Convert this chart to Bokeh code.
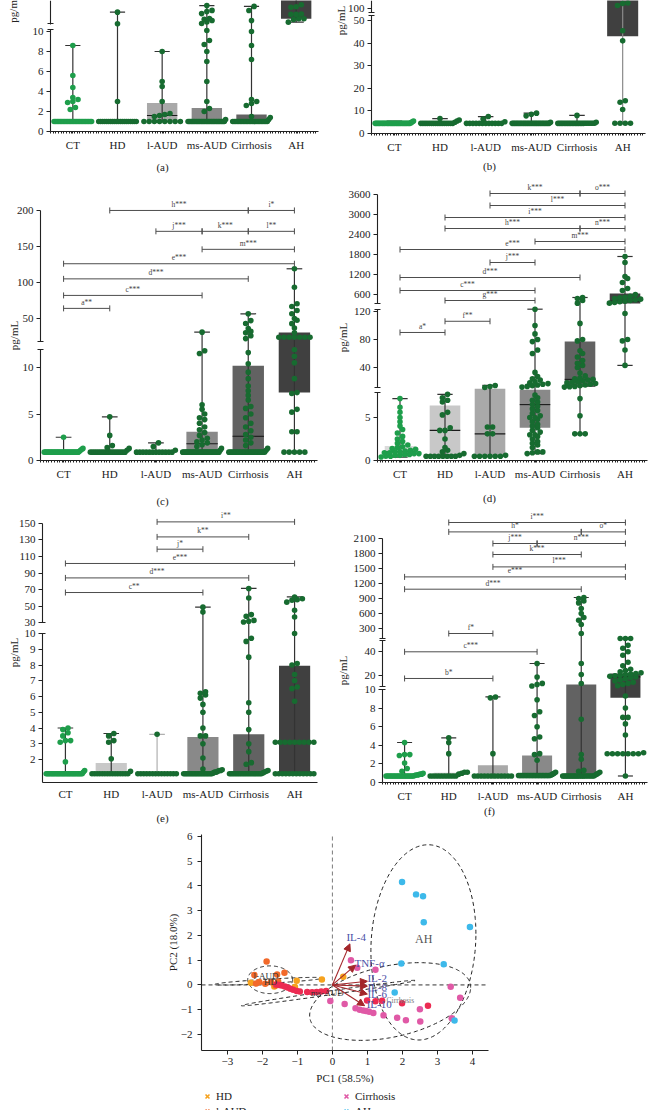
import numpy as np
from bokeh.plotting import figure
from bokeh.layouts import column, row
from bokeh.models import (Range1d, LinearAxis, FixedTicker, Label, Arrow, NormalHead,
                          Legend, LegendItem)
from bokeh.embed import file_html
from bokeh.resources import INLINE
from bokeh.core.properties import value

FONT = "Liberation Serif"
INK = "#222222"
GROUPS = ["CT", "HD", "l-AUD", "ms-AUD", "Cirrhosis", "AH"]
BOX_FILLS = ["#DADADA", "#C8C8C8", "#A9A9A9", "#898989", "#626262", "#404040"]
GREEN_CT = "#1E9E4B"
GREEN = "#176B30"

# ---------------- panel (a) ----------------
A_CT = [1.0] * 26 + [2.2, 2.4, 2.9, 3.0, 3.2, 3.4, 4.4, 5.6, 8.6]
A_HD = [1.0] * 20 + [3.0, 12.2, 26.8]
A_LAUD = [1.0] * 8 + [1.5, 1.6, 1.7, 1.8, 3.0, 4.5, 5.0, 8.0]
A_MSAUD = [1.0] * 30 + [1.2, 2.0, 2.3, 3.0, 5.0, 7.0, 8.0, 8.7, 9.1, 10.1,
                        12.6, 14.5, 16.4, 18.0, 18.9, 25.0, 27.5, 29.0, 35.0]
A_CIRR = [1.0] * 24 + [1.2, 1.4, 1.5, 2.6, 2.8, 3.0, 3.2, 7.2, 8.6, 10.0, 16.4, 28.9, 34.0]
A_AH = [14.3, 17.6, 18.5, 18.6, 24.0, 24.0, 24.5, 33.0, 33.5, 36.0, 48.0, 62.0, 80.0]
A_Q1 = [1.0, 1.0, 1.0, 1.0, 1.0, 18.5]
A_MED = [1.0, 1.0, 1.6, 1.0, 1.1, 45.0]
A_Q3 = [1.0, 1.0, 2.85, 2.35, 1.7, 90.0]

# ---------------- panel (b) ----------------
B_CT = [4.5] * 30 + [4.8, 5.2, 5.5]
B_HD = [4.5] * 16 + [5.0, 5.5, 6.0, 6.6]
B_LAUD = [4.5] * 12 + [5.2, 6.4, 7.5]
B_MSAUD = [4.5] * 28 + [5.0, 7.8, 8.5, 9.0]
B_CIRR = [4.5] * 24 + [5.0, 8.0]
B_AH = [4.5] * 4 + [10.6, 13.8, 14.5, 41.0, 45.5, 106.0, 110.0, 111.0, 150.0, 250.0]
B_Q1 = [4.5, 4.5, 4.5, 4.5, 4.5, 43.0]
B_MED = [4.5, 4.5, 4.5, 4.5, 4.5, 150.0]
B_Q3 = [4.6, 5.0, 4.7, 4.8, 4.7, 300.0]

# ---------------- panel (c) ----------------
C_CT = [0.9] * 30 + [1.0, 1.1, 1.2, 1.3, 2.5]
C_HD = [0.9] * 18 + [1.1, 1.3, 1.4, 1.6, 2.7, 4.7]
C_LAUD = [0.9] * 12 + [1.1, 1.5, 1.9]
C_MSAUD = [0.9] * 30 + [1.1, 1.3, 1.5, 1.7, 1.9, 2.0, 2.2, 2.4, 2.7, 3.0, 3.3, 3.6, 4.0,
                        4.4, 4.6, 5.0, 5.5, 6.0, 11.5, 11.8, 31.0]
C_CIRR = [0.9] * 25 + [1.1, 1.3, 1.6, 1.9, 2.2, 2.5, 2.8, 3.2, 3.6, 4.0, 4.6, 5.0, 5.6, 5.8,
                       6.5, 7.0, 7.5, 8.0, 8.8, 9.5, 10.4, 11.6, 22.0, 26.0, 30.0, 32.0,
                       36.0, 43.0, 47.0, 56.5]
C_AH = [0.9] * 5 + [3.1, 3.1, 5.2, 5.5, 7.2, 7.3, 8.8, 10.5, 11.2, 12.0] + [24.0] * 7 + \
       [30.0, 36.6, 42.8, 47.4, 50.0, 56.5, 61.0, 66.7, 70.4, 93.4, 119.0]
C_Q1 = [0.9, 0.9, 0.9, 0.9, 0.9, 7.3]
C_MED = [0.9, 0.9, 0.9, 1.8, 2.6, None]
C_Q3 = [1.0, 1.0, 0.9, 3.1, 10.2, 30.5]
C_BRACKETS = [("h***", 1, 4, 200), ("i*", 4, 5, 200), ("j***", 2, 3, 171),
              ("k***", 3, 4, 171), ("l**", 4, 5, 171), ("m***", 3, 5, 146),
              ("e***", 0, 5, 126), ("d***", 0, 4, 105), ("c***", 0, 3, 82), ("a**", 0, 1, 64)]

# ---------------- panel (d) ----------------
D_CT = [0.4, 0.5, 0.5, 0.6, 0.6, 0.7, 0.7, 0.8, 0.8, 0.9, 0.9, 1.0, 1.0, 1.1, 1.2, 1.3, 1.4,
        1.5, 1.6, 1.8, 2.0, 2.2, 2.5, 2.8, 3.2, 3.6, 4.0, 4.5, 5.0, 5.6, 6.2, 7.2]
D_HD = [0.5] * 8 + [0.6, 0.8, 1.0, 1.2, 1.5, 2.5, 3.5, 3.5, 3.8, 5.3, 5.6, 6.8, 7.0, 7.3, 7.7]
D_LAUD = [0.5] * 6 + [0.6, 3.1, 3.1, 3.9, 3.9, 11.4, 12.8, 14.3]
D_MSAUD = [0.8, 0.9, 1.0, 1.0, 1.5, 1.8, 2.0, 2.2, 2.5, 2.8, 3.0, 3.0, 3.3, 3.5, 3.8, 4.0, 4.2,
           4.5, 4.8, 5.0, 5.0, 5.2, 5.5, 5.8, 6.0, 6.3, 6.5, 6.8, 7.0, 7.3, 7.6, 12.0, 13.0,
           14.0, 15.0, 16.0, 17.0, 18.0, 20.0, 22.0, 24.0, 27.0, 33.0, 60.0, 65.0, 77.0, 80.0,
           88.0, 100.0, 130.0]
D_CIRR = [3.1, 3.1, 3.1, 5.2, 7.2, 12.0, 12.5, 13.0, 14.0, 15.0, 16.0, 17.0, 18.0, 19.0, 20.0,
          21.0, 22.0, 23.0, 24.0, 25.0, 28.0, 32.0, 40.0, 43.0, 46.0, 50.0, 55.0, 60.0, 64.0,
          78.0, 80.0, 103.0, 340.0, 420.0, 480.0, 510.0]
D_AH = [43.0, 65.0, 78.0, 80.0, 117.0, 340.0, 360.0, 380.0, 400.0, 420.0, 440.0, 460.0, 480.0,
        500.0, 520.0, 550.0, 600.0, 720.0, 780.0, 960.0, 1080.0, 1140.0, 1560.0, 1740.0]
D_Q1 = [0.5, 0.6, 0.6, 3.8, 12.0, 330.0]
D_MED = [1.0, 3.5, 3.1, 6.5, 23.0, 400.0]
D_Q3 = [1.7, 6.4, 10.5, 9.8, 77.0, 630.0]
D_BRACKETS = [("k***", 2, 4, 3630), ("o***", 4, 5, 3630), ("l***", 2, 5, 3270),
              ("i***", 1, 5, 2910), ("h***", 1, 4, 2580), ("n***", 4, 5, 2580),
              ("m***", 3, 5, 2190), ("e***", 0, 5, 1950), ("j***", 2, 3, 1560),
              ("d***", 0, 4, 1110), ("c***", 0, 3, 720), ("g***", 1, 3, 420),
              ("f**", 1, 2, 106), ("a*", 0, 1, 90)]

# ---------------- panel (e) ----------------
E_CT = [1.1] * 30 + [1.2, 1.3, 1.85, 3.1, 3.2, 3.2, 3.5, 3.7, 3.9, 4.0]
E_HD = [1.1] * 15 + [1.25, 2.05, 3.1, 3.2, 3.5, 3.65]
E_LAUD = [1.1] * 14 + [3.6]
E_MSAUD = [1.1] * 20 + [1.15, 1.2, 1.2, 1.25, 1.3, 1.3, 1.35, 1.4, 2.1, 3.0, 3.5, 3.5, 4.0,
                        5.0, 5.5, 5.9, 6.1, 6.2, 6.3, 43.0, 49.0]
E_CIRR = [1.1] * 20 + [1.15, 1.2, 1.25, 1.3, 1.7, 1.8, 2.5, 3.0, 3.9, 5.0, 5.6, 8.5, 9.5, 9.7,
                       31.0, 32.0, 33.0, 38.0, 40.0, 60.0, 71.5]
E_AH = [1.1] * 12 + [3.1] * 9 + [5.7, 6.5, 6.6, 7.0, 7.4, 8.0, 8.1, 10.0, 37.2, 45.3, 55.0,
                                 57.4, 58.0, 59.0, 61.3]
E_Q1 = [1.1, 1.1, 1.1, 1.1, 1.1, 1.1]
E_MED = [1.1, 1.1, 1.1, 1.1, 1.1, 3.1]
E_Q3 = [1.1, 1.78, 1.1, 3.43, 3.6, 7.95]
E_BRACKETS = [("i**", 2, 5, 151.7), ("k**", 2, 4, 133.6), ("j*", 2, 3, 118.8),
              ("e***", 0, 5, 101.6), ("d***", 0, 4, 84.2), ("c**", 0, 3, 66.6)]

# ---------------- panel (f) ----------------
F_CT = [0.7] * 20 + [0.75, 0.8, 0.8, 0.85, 0.9, 0.9, 1.0, 1.2, 1.5, 2.1, 2.9, 3.0, 3.0, 4.3]
F_HD = [0.7] * 10 + [0.9, 1.0, 1.1, 1.1, 3.1, 4.3, 4.8]
F_LAUD = [0.7] * 12 + [3.1, 9.1, 9.2]
F_MSAUD = [0.75] * 22 + [0.8, 0.9, 1.0, 1.1, 2.4, 3.0, 3.1, 4.7, 4.9, 6.0, 7.2, 7.6, 8.9,
                         10.8, 12.0, 13.0, 18.5, 30.0]
F_CIRR = [0.7] * 22 + [0.8, 0.9, 1.0, 1.1, 1.2, 1.3, 2.5, 3.0, 6.8, 12.9, 20.5, 30.0, 200.0,
                       380.0, 465.0, 520.0, 600.0, 700.0, 812.0, 850.0, 900.0, 920.0]
F_AH = [0.7] + [3.1] * 7 + [3.2, 5.1, 6.3, 7.0, 7.0, 8.0, 9.3, 11.0, 12.0, 13.0, 14.0, 15.0,
                            16.0, 17.0, 18.0, 18.5, 19.0, 19.5, 20.0, 20.5, 21.0, 21.5, 22.0,
                            23.0, 24.0, 25.0, 28.0, 31.0, 37.0, 40.0, 43.0, 45.5, 100.0,
                            100.0, 100.0]
F_Q1 = [0.7, 0.7, 0.7, 0.75, 0.7, 9.1]
F_MED = [0.7, 0.8, 0.75, 0.8, 0.8, 18.6]
F_Q3 = [0.8, 1.05, 1.85, 2.9, 12.1, 21.4]
F_BRACKETS = [("i***", 1, 5, 2420), ("h*", 1, 4, 2232), ("o*", 4, 5, 2232),
              ("j***", 2, 3, 2000), ("n***", 3, 5, 2000), ("k***", 2, 4, 1780),
              ("l***", 2, 5, 1532), ("e***", 0, 5, 1332), ("d***", 0, 4, 1086),
              ("f*", 1, 2, 200), ("c***", 0, 3, 40), ("b*", 0, 2, 17.2)]

# ---------------- PCA ----------------
PCA_GROUPS = ["HD", "l-AUD", "ms-AUD", "Cirrhosis", "AH"]
PCA_COLORS = ["#F6A21E", "#F2692A", "#EC2B52", "#E059A6", "#3DB9EA"]
HD_PC1 = [-2.33, -1.66, -1.02, -1.07, -0.30, 0.31]
HD_PC2 = [0.09, -0.06, 0.17, -0.08, 0.22, 0.33]
LAUD_PC1 = [-1.88, -2.23, -1.58, -1.37, -2.09, -1.92, -1.75, -1.55, -2.18, -1.62]
LAUD_PC2 = [0.95, 0.40, 0.42, 0.49, 0.12, 0.05, 0.11, 0.14, 0.06, -0.02]
MSAUD_PC1 = [-1.60, -1.52, -1.45, -1.36, -1.28, -1.20, -1.12, -1.02, -0.93, -0.72, -0.58,
             -0.45, -0.32, -0.18, 0.99, 1.23, 1.42, 1.99, 2.73]
MSAUD_PC2 = [0.02, 0.0, -0.02, -0.06, -0.10, -0.15, -0.19, -0.25, -0.27, -0.29, -0.30,
             -0.29, -0.27, -0.25, -0.63, -0.66, -0.64, -0.74, -0.84]
CIRR_PC1 = [0.53, 0.71, 1.23, -0.06, 0.35, 0.66, 0.78, 0.88, 0.96, 1.05, 1.17, 1.46, 1.85,
            2.10, 2.50, 2.51, 3.38, 3.65, 3.41]
CIRR_PC2 = [1.0, 0.69, 0.61, -0.65, -0.77, -0.94, -1.0, -1.03, -1.05, -1.08, -1.13, -1.23,
            -1.33, -1.43, -0.98, -1.48, -0.07, -0.52, -1.35]
AH_PC1 = [1.99, 2.39, 2.59, 2.61, 3.93, 1.97, 3.18, 1.78, 3.49]
AH_PC2 = [4.16, 3.66, 3.58, 2.53, 2.34, 0.87, 0.84, -0.31, -1.44]
LOAD_NAMES = ["IL-4", "TNF-α", "IL-2", "IL-8", "IL-6", "IL-10"]
LOAD_PC1 = [0.50, 0.66, 1.00, 1.00, 1.00, 0.92]
LOAD_PC2 = [1.66, 0.80, 0.15, -0.05, -0.37, -0.84]
# confidence ellipses: centre and two conjugate semi-axes (PC1, PC2)
ELLIPSES = {
    "AH": ((2.6, 1.72), (1.5, 0.35), (0.0, 3.93)),
    "Cirrhosis": ((1.65, -0.67), (2.3, 0.565), (0.0, 1.465)),
    "l-AUD": ((-1.78, 0.21), (0.64, 0.0), (0.0, 0.56)),
    "HD": ((-1.81, 0.15), (1.55, 0.13), (0.0, 0.085)),
    "ms-AUD": ((-0.12, -0.33), (2.48, 0.51), (0.0, 0.08)),
}


class BrokenScale:
    """Piecewise-linear value -> pixel-height mapping for a broken y axis."""

    def __init__(self, segments):
        self.segments = segments  # (v_start, v_end, d_start, px_per_unit)

    @staticmethod
    def _seg(s, v):
        return s[2] + (v - s[0]) * s[3]

    def __call__(self, v):
        segs = self.segments
        if v <= segs[0][1]:
            return self._seg(segs[0], v)
        for i, s in enumerate(segs):
            if s[0] <= v <= s[1]:
                return self._seg(s, v)
            if i + 1 < len(segs) and s[1] < v < segs[i + 1][0]:
                a = self._seg(s, s[1])
                b = segs[i + 1][2]
                return a + (b - a) * (v - s[1]) / (segs[i + 1][0] - s[1])
        return self._seg(segs[-1], v)


def swarm(ds, center, unit_px, dot=5.2, half=0.42):
    order = sorted(range(len(ds)), key=lambda i: ds[i])
    xs = [float(center)] * len(ds)
    rows = []
    for i in order:
        if rows and ds[i] - ds[rows[-1][0]] < dot * 0.8:
            rows[-1].append(i)
        else:
            rows.append([i])
    step = dot / unit_px
    for r in rows:
        k = len(r)
        if k == 1:
            continue
        s = min(step, 2 * half / (k - 1))
        for j, i in enumerate(r):
            xs[i] = center + (j - (k - 1) / 2) * s
    return xs


def style_axis(ax, tick_out=4, standoff=3):
    ax.axis_line_color = INK
    ax.axis_line_width = 1.1
    ax.major_tick_in = 0
    ax.major_tick_out = tick_out
    ax.major_tick_line_color = INK
    ax.minor_tick_line_color = INK
    ax.major_label_text_font = FONT
    ax.major_label_text_font_size = "11px"
    ax.major_label_text_color = INK
    ax.major_label_standoff = standoff


def bare_figure(w, h, xr, yr):
    p = figure(width=w, height=h, min_border_left=0, min_border_right=0, min_border_top=0,
               min_border_bottom=0, x_range=Range1d(*xr), y_range=Range1d(*yr),
               x_axis_location=None, y_axis_location=None,
               output_backend="svg", toolbar_location=None)
    p.outline_line_color = None
    p.grid.visible = False
    p.background_fill_color = "white"
    p.border_fill_color = "white"
    return p


def box_panel(groups, q1, med, q3, scale, seg_ticks, brackets, caption, geom,
              ylabel, ruler=True, whisker_colors=None):
    w, h, bl, br, bt, bb = geom
    fw, fh = w - bl - br, h - bt - bb
    unit_px = fw / 6.0
    p = bare_figure(w, h, (-0.5 - bl / unit_px, 5.5 + br / unit_px), (-bb, fh + bt))

    # category axis along the baseline, with a fine ruler of minor ticks
    minor = [round(v, 3) for v in np.arange(-0.5, 5.5, 0.06)] if ruler else []
    xa = LinearAxis(fixed_location=0, bounds=(-0.5, 5.5),
                    ticker=FixedTicker(ticks=list(range(6)), minor_ticks=minor),
                    major_label_overrides={i: g for i, g in enumerate(GROUPS)})
    style_axis(xa, tick_out=2 if ruler else 0, standoff=5)
    xa.minor_tick_in = 0
    xa.minor_tick_out = 2
    p.add_layout(xa, "below")

    # broken y axis: one bounded axis per segment
    n = len(scale.segments)
    for i, (seg, ticks) in enumerate(zip(scale.segments, seg_ticks)):
        lo = scale(seg[0])
        hi = min(scale(seg[1]), fh)
        tpos = [round(scale(t), 2) for t in ticks]
        caps = []
        if i > 0:
            caps.append(round(lo + 0.01, 2))
        if i < n - 1:
            caps.append(round(hi - 0.01, 2))
        ax = LinearAxis(fixed_location=-0.5, bounds=(lo, hi),
                        ticker=FixedTicker(ticks=tpos, minor_ticks=caps),
                        major_label_overrides={t: str(v) for t, v in zip(tpos, ticks)})
        style_axis(ax, tick_out=4, standoff=3)
        ax.minor_tick_in = 3
        ax.minor_tick_out = 3
        ax.minor_tick_line_width = 1.1
        p.add_layout(ax, "left")

    # boxes, whiskers, points
    for gi, vals in enumerate(groups):
        ds = [scale(v) for v in vals]
        if q3[gi] > q1[gi]:
            p.quad(left=gi - 0.34, right=gi + 0.34, bottom=scale(q1[gi]), top=scale(q3[gi]),
                   fill_color=BOX_FILLS[gi], line_color=None)
        if med[gi] is not None:
            p.segment(x0=gi - 0.34, x1=gi + 0.34, y0=scale(med[gi]), y1=scale(med[gi]),
                      line_color="#1a1a1a", line_width=1.1)
        wc = whisker_colors[gi] if whisker_colors else "#333333"
        lo, hi = min(ds), max(ds)
        p.segment(x0=gi, x1=gi, y0=lo, y1=hi, line_color=wc, line_width=1.2)
        for yv in (lo, hi):
            p.segment(x0=gi - 0.17, x1=gi + 0.17, y0=yv, y1=yv, line_color=wc, line_width=1.2)
        xs = swarm(ds, gi, unit_px)
        col = GREEN_CT if gi == 0 else GREEN
        p.scatter(xs, ds, size=5.6, fill_color=col, line_color=None)

    # significance brackets
    for lab, a, b, v in brackets:
        y = scale(v)
        p.segment(x0=a, x1=b, y0=y, y1=y, line_color="#4d4d4d", line_width=1)
        for xe in (a, b):
            p.segment(x0=xe, x1=xe, y0=y - 3, y1=y + 3, line_color="#4d4d4d", line_width=1)
        p.text(x=[(a + b) / 2], y=[y + 1.5], text=[lab], text_font=value(FONT),
               text_font_size="7.5px", text_color="#444444", text_align="center",
               text_baseline="bottom")

    # y label and panel caption
    ly, lx_off = ylabel
    p.add_layout(Label(x=-0.5, y=ly, x_offset=lx_off, text="pg/mL", angle=np.pi / 2,
                       text_font=FONT, text_font_size="11px", text_color=INK,
                       text_align="center", text_baseline="middle"))
    cap_x = -0.5 + (162 - bl) / unit_px
    p.add_layout(Label(x=cap_x, y=caption[1], text=caption[0], text_font=FONT,
                       text_font_size="11px", text_color=INK, text_align="center",
                       text_baseline="middle"))
    return p


SC_A = BrokenScale([(0, 10.2, 0, 10.0), (12, 60, 107.5, 0.8)])
SC_B = BrokenScale([(0, 52, 0, 2.26), (92, 400, 121, 0.5)])
SC_C = BrokenScale([(0, 11.9, 0, 9.3), (18, 200, 119, 0.72)])
SC_D = BrokenScale([(0, 7.9, 0, 8.6), (11.4, 123, 73, 0.7), (330, 3600, 157, 1 / 30)])
SC_E = BrokenScale([(0.54, 10, 0, 15.75), (30, 150, 159.6, 0.83)])
SC_F = BrokenScale([(0, 10, 0, 9.3), (10.6, 50, 96.3, 1.17), (100, 2100, 144, 0.05)])

pa = box_panel([A_CT, A_HD, A_LAUD, A_MSAUD, A_CIRR, A_AH], A_Q1, A_MED, A_Q3, SC_A,
               [[0, 2, 4, 6, 8, 10], []], [], ("(a)", -35), (327, 178, 50, 9, 0, 47),
               (123.5, -38))
pb = box_panel([B_CT, B_HD, B_LAUD, B_MSAUD, B_CIRR, B_AH], B_Q1, B_MED, B_Q3, SC_B,
               [[0, 10, 20, 30, 40, 50], [100]], [], ("(b)", -32), (327, 178, 44, 9, 0, 45),
               (113, -31), whisker_colors=["#333333"] * 5 + ["#8a8a8a"])
pc_ = box_panel([C_CT, C_HD, C_LAUD, C_MSAUD, C_CIRR, C_AH], C_Q1, C_MED, C_Q3, SC_C,
                [[0, 5, 10], [50, 100, 150, 200]], C_BRACKETS, ("(c)", -40),
                (327, 330, 40, 10, 20, 48), (125, -27))
pd_ = box_panel([D_CT, D_HD, D_LAUD, D_MSAUD, D_CIRR, D_AH], D_Q1, D_MED, D_Q3, SC_D,
                [[0, 5], [40, 80, 120], [600, 1200, 1800, 2400, 3000, 3600]], D_BRACKETS,
                ("(d)", -37), (327, 330, 50, 7, 3, 48), (123, -35))
pe = box_panel([E_CT, E_HD, E_LAUD, E_MSAUD, E_CIRR, E_AH], E_Q1, E_MED, E_Q3, SC_E,
               [[2, 3, 4, 5, 6, 7, 8, 9, 10], [30, 50, 70, 90, 110, 130, 150]], E_BRACKETS,
               ("(e)", -35), (327, 318, 42, 10, 2, 44), (130, -29), ruler=False,
               whisker_colors=["#333333", "#333333", "#b0b0b0", "#333333", "#333333", "#333333"])
pf = box_panel([F_CT, F_HD, F_LAUD, F_MSAUD, F_CIRR, F_AH], F_Q1, F_MED, F_Q3, SC_F,
               [[0, 2, 4, 6, 8, 10], [20, 40], [300, 600, 900, 1200, 1500, 1800, 2100]],
               F_BRACKETS, ("(f)", -28), (327, 318, 55, 7, 2, 44), (112, -40))

# ---------------- PCA biplot ----------------
PX0, PX1, PY0, PY1 = -3.74, 4.46, -2.65, 6.08       # plotting window in PC units
PW, PH, PL, PR, PT, PB = 654, 284, 201, 166, 8, 60   # canvas and margins (px)
kx = (PW - PL - PR) / (PX1 - PX0)
ky = (PH - PT - PB) / (PY1 - PY0)
pp = bare_figure(PW, PH, (PX0 - PL / kx, PX1 + PR / kx), (PY0 - PB / ky, PY1 + PT / ky))


def minus(t):
    return "\u2212" + str(-t) if t < 0 else str(t)


xa = LinearAxis(fixed_location=PY0, bounds=(PX0, PX1),
                ticker=FixedTicker(ticks=list(range(-3, 5))),
                major_label_overrides={t: minus(t) for t in range(-3, 5)})
style_axis(xa, tick_out=4, standoff=3)
pp.add_layout(xa, "below")
ya = LinearAxis(fixed_location=PX0, bounds=(PY0, PY1),
                ticker=FixedTicker(ticks=list(range(-2, 7))),
                major_label_overrides={t: minus(t) for t in range(-2, 7)})
style_axis(ya, tick_out=4, standoff=5)
pp.add_layout(ya, "left")
pp.add_layout(Label(x=(PX0 + PX1) / 2, y=PY0, y_offset=-27, text="PC1 (58.5%)",
                    text_font=FONT, text_font_size="11px", text_color=INK,
                    text_align="center", text_baseline="middle"))
pp.add_layout(Label(x=PX0, y=(PY0 + PY1) / 2, x_offset=-29, text="PC2 (18.0%)",
                    angle=np.pi / 2, text_font=FONT, text_font_size="11px", text_color=INK,
                    text_align="center", text_baseline="middle"))

# zero reference lines
pp.segment(x0=0, y0=PY0, x1=0, y1=PY1, line_color="#7a7a7a", line_dash="4 3", line_width=1)
pp.segment(x0=PX0, y0=0, x1=PX1, y1=0, line_color="#333333", line_dash="4 3", line_width=1)

t = np.linspace(0, 2 * np.pi, 240)
for name, ((cx, cy), (ux, uy), (vx, vy)) in ELLIPSES.items():
    ex = cx + ux * np.cos(t) + vx * np.sin(t)
    ey = cy + uy * np.cos(t) + vy * np.sin(t)
    pp.line(ex, ey, line_color="#222222", line_dash="4 3", line_width=1)

pts = [(HD_PC1, HD_PC2), (LAUD_PC1, LAUD_PC2), (MSAUD_PC1, MSAUD_PC2),
       (CIRR_PC1, CIRR_PC2), (AH_PC1, AH_PC2)]
legend_items = []
for name, col, (px, py) in zip(PCA_GROUPS, PCA_COLORS, pts):
    pp.scatter(px, py, size=6.5, fill_color=col, line_color=None)
    # legend key: an "x" marker with no visible position of its own
    key = pp.scatter([float("nan")], [float("nan")], marker="x", size=8, line_color=col,
                     line_width=1.6)
    legend_items.append(LegendItem(label=name, renderers=[key]))

# group names
pp.text(x=[2.61], y=[1.86], text=["AH"], text_font=value(FONT), text_font_size="12px",
        text_color="#555555", text_align="center", text_baseline="middle")
pp.text(x=[-1.9, -1.77, -0.15], y=[0.37, 0.13, -0.31], text=["l-AUD", "HD", "ms-AUD"],
        text_font=value(FONT), text_font_size="9px", text_color="#333333",
        text_align="center", text_baseline="middle")
pp.text(x=[1.94], y=[-0.61], text=["Cirrhosis"], text_font=value(FONT),
        text_font_size="7.5px", text_color="#777777", text_align="center",
        text_baseline="middle")

# loadings
for lx, ly in zip(LOAD_PC1, LOAD_PC2):
    pp.add_layout(Arrow(x_start=0, y_start=0, x_end=lx, y_end=ly, line_color="#A3262A",
                        line_width=1.1,
                        end=NormalHead(size=7, fill_color="#A3262A", line_color="#A3262A")))
LABEL_DX = [-0.10, -0.03, 0.0, 0.0, 0.0, 0.06]
LABEL_DY = [0.26, 0.10, 0.15, -0.02, -0.01, 0.08]
pp.text(x=[a + b for a, b in zip(LOAD_PC1, LABEL_DX)],
        y=[a + b for a, b in zip(LOAD_PC2, LABEL_DY)], text=LOAD_NAMES,
        text_font=value(FONT), text_font_size="11px", text_color="#4B4FA6",
        text_align="left", text_baseline="middle")

legend = Legend(items=legend_items, orientation="vertical", nrows=3, location=(200, -23),
                padding=0, margin=0, spacing=1, glyph_width=14, glyph_height=14,
                label_standoff=2, label_width=122, border_line_color=None,
                background_fill_alpha=0, label_text_font=FONT,
                label_text_font_size="11px", label_text_color=INK)
pp.add_layout(legend, "center")

layout = column(row(pa, pb), row(pc_, pd_), row(pe, pf), pp)
open("out.html", "w").write(file_html(layout, INLINE))
